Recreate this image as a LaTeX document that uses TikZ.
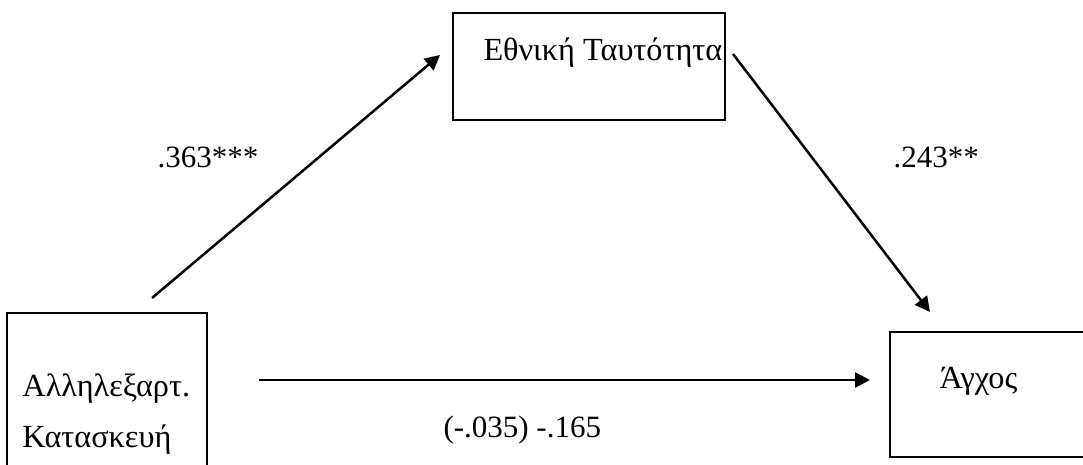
\documentclass[tikz,border=0pt]{standalone}
\usepackage{fontspec}
\setmainfont{Liberation Serif}
\usepackage{tikz}
\usetikzlibrary{arrows.meta, positioning}

\begin{document}
\begin{tikzpicture}[
  x=0.4pt, y=-0.4pt,
  box/.style={draw, line width=0.8pt, rectangle, inner sep=0pt},
  txt/.style={anchor=base west, inner sep=0pt, font=\fontsize{12.4}{14}\selectfont},
  gtxt/.style={txt, font=\fontsize{12.9}{14}\selectfont},
  arr/.style={-{Triangle[length=6pt, width=6pt]}, line width=1pt}]
  \useasboundingbox (0,0) rectangle (1083,465);
  \clip (0,0) rectangle (1083,465);
  % the three variables (left and right boxes run past the page edge)
  \node[box, minimum width=108.8pt, minimum height=42.8pt] (ident) at (589,66.5) {};
  \node[box, minimum width=80pt, minimum height=74.8pt] (interdep) at (107,406.5) {};
  \node[box, minimum width=88pt, minimum height=50pt] (anx) at (1000,394.5) {};
  \node[gtxt] (identtxt) at (483,61) {Εθνική Ταυτότητα};
  \node[gtxt] (interdeptxta) at (22,396) {Αλληλεξαρτ.};
  \node[gtxt] (interdeptxtb) at (22,447) {Κατασκευή};
  \node[gtxt] (anxtxt) at (939,388.5) {Άγχος};
  % path ends sit a little off the boxes
  \coordinate (a1s) at (152,298);
  \coordinate (a1e) at (440,55);
  \coordinate (a2s) at (733,54);
  \coordinate (a2e) at (930,312);
  \coordinate (a3s) at (259,380);
  \coordinate (a3e) at (870,380);
  \draw[arr] (a1s) -- (a1e);
  \draw[arr] (a2s) -- (a2e);
  \draw[arr] (a3s) -- (a3e);
  \node[txt] (wa) at (157,167.5) {.363***};
  \node[txt] (wb) at (893,167.5) {.243**};
  \node[txt] (wc) at (443,437.5) {(-.035) -.165};
\end{tikzpicture}
\end{document}
